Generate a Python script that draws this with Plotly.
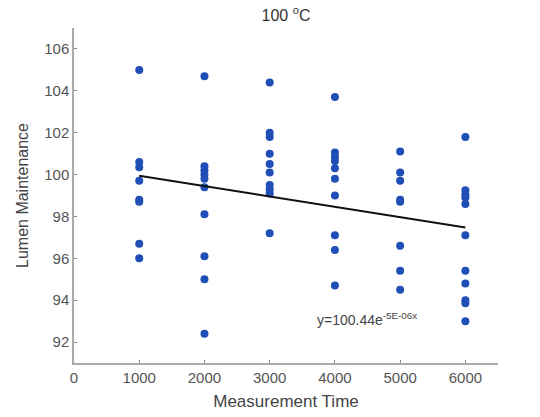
import plotly.graph_objects as go

times = [1000, 2000, 3000, 4000, 5000, 6000]
lm_1000 = [105.0, 100.6, 100.35, 99.7, 98.8, 98.7, 96.7, 96.0]
lm_2000 = [104.7, 100.4, 100.2, 100.0, 99.8, 99.4, 98.1, 96.1, 95.0, 92.4]
lm_3000 = [104.4, 102.0, 101.8, 101.0, 100.5, 100.1, 99.5, 99.3, 99.1, 97.2]
lm_4000 = [103.7, 101.05, 100.85, 100.65, 100.3, 99.8, 99.0, 97.1, 96.4, 94.7]
lm_5000 = [101.1, 100.1, 99.7, 98.8, 98.7, 96.6, 95.4, 94.5]
lm_6000 = [101.8, 99.25, 99.05, 98.9, 98.6, 97.1, 95.4, 94.8, 94.0, 93.85, 93.0]
groups = [lm_1000, lm_2000, lm_3000, lm_4000, lm_5000, lm_6000]

trend_x = [1000, 2000, 3000, 4000, 5000, 6000]
trend_y = [99.94, 99.44, 98.95, 98.45, 97.96, 97.47]

xs, ys = [], []
for t, g in zip(times, groups):
    xs += [t] * len(g)
    ys += g

fig = go.Figure()
fig.add_trace(go.Scatter(x=xs, y=ys, mode="markers",
                         marker=dict(color="#1f4fb6", size=8, line=dict(width=0)),
                         showlegend=False))
fig.add_trace(go.Scatter(x=trend_x, y=trend_y, mode="lines",
                         line=dict(color="#111111", width=2), showlegend=False))

fig.add_annotation(x=3700, y=92.6, xref="x", yref="y",
                   text="y=100.44e<sup>-5E-06x</sup>", showarrow=False,
                   xanchor="left", yanchor="bottom",
                   font=dict(family="Liberation Sans, Arial", size=14, color="#444444"))

axis_common = dict(showline=True, linecolor="#aaaaaa", linewidth=1.5,
                   ticks="inside", ticklen=3, tickcolor="#888888",
                   showgrid=False, zeroline=False, automargin=False,
                   tickfont=dict(family="Liberation Sans, Arial", size=15, color="#555555"),
                   mirror=False)

fig.update_layout(
    width=540, height=417,
    margin=dict(l=74, r=42, t=28, b=54),
    paper_bgcolor="white", plot_bgcolor="white",
    title=dict(text="100 <sup>o</sup>C", x=0.5, xanchor="center", y=0.963, yanchor="middle",
               xref="paper",
               font=dict(family="Liberation Sans, Arial", size=16, color="#333333")),
    xaxis=dict(range=[0, 6500], tickvals=[0, 1000, 2000, 3000, 4000, 5000, 6000],
               title=dict(text="Measurement Time", standoff=10,
                          font=dict(family="Liberation Sans, Arial", size=17, color="#444444")),
               **axis_common),
    yaxis=dict(range=[91, 107], tickvals=[92, 94, 96, 98, 100, 102, 104, 106],
               title=dict(text="Lumen Maintenance", standoff=12,
                          font=dict(family="Liberation Sans, Arial", size=16, color="#444444")),
               **axis_common),
)

fig.write_html("out.html")
